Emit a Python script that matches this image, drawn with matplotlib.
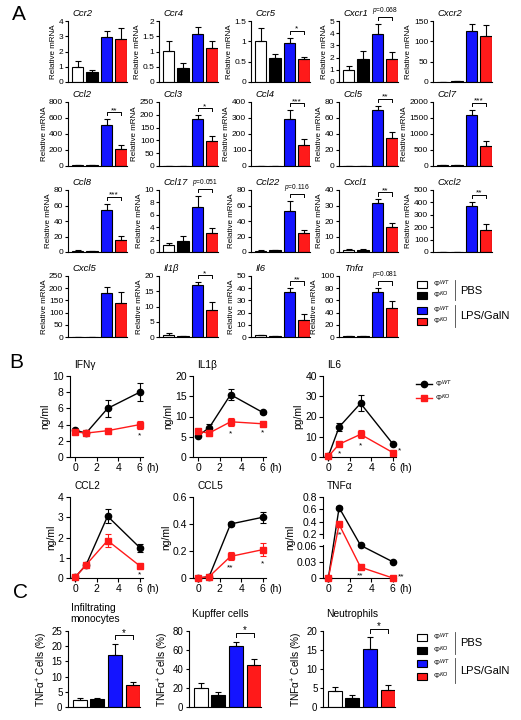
import matplotlib
matplotlib.use('Agg')
import matplotlib.pyplot as plt
from matplotlib.patches import Rectangle
from matplotlib.lines import Line2D
from matplotlib.ticker import FuncFormatter
import numpy as np

plt.rcParams.update({
    'font.family': ['Liberation Sans', 'DejaVu Sans'],
    'mathtext.fontset': 'custom', 'mathtext.rm': 'Liberation Sans',
    'mathtext.it': 'Liberation Sans:italic',
    'axes.linewidth': 0.8,
    'xtick.major.width': 0.8, 'ytick.major.width': 0.8,
    'xtick.major.size': 2.5, 'ytick.major.size': 2.5,
    'xtick.major.pad': 1.5, 'ytick.major.pad': 1.5,
})

W, H = 521, 720
fig = plt.figure(figsize=(W / 100, H / 100), dpi=100)

def px_axes(left, top, width, height):
    return fig.add_axes([left / W, 1 - (top + height) / H, width / W, height / H])

def px2fig(x, y):
    return x / W, 1 - y / H

fmt_g = FuncFormatter(lambda v, p: f'{v:g}')

# ---------------- data ----------------
groups = ['ΦWT PBS', 'ΦKO PBS', 'ΦWT LPS/GalN', 'ΦKO LPS/GalN']
geno_labels = ['Φ$^{WT}$', 'Φ$^{KO}$', 'Φ$^{WT}$', 'Φ$^{KO}$']
bar_colors = ['white', 'black', '#1414ff', '#ff1a1a']

# Panel A: relative mRNA
genes = ['Ccr2', 'Ccr4', 'Ccr5', 'Cxcr1', 'Cxcr2',
         'Ccl2', 'Ccl3', 'Ccl4', 'Ccl5', 'Ccl7',
         'Ccl8', 'Ccl17', 'Ccl22', 'Cxcl1', 'Cxcl2',
         'Cxcl5', 'Il1β', 'Il6', 'Tnfα']
mrna_mean = [
    [1.0, 0.68, 2.93, 2.84], [1.02, 0.45, 1.57, 1.12], [1.0, 0.58, 0.97, 0.56],
    [1.0, 1.92, 3.95, 1.92], [1.0, 2.0, 125, 112],
    [8, 8, 512, 212], [1, 1, 184, 99], [2, 2, 293, 131], [0.5, 0.5, 70, 35], [25, 25, 1600, 630],
    [1.5, 0.8, 54.7, 15.1], [1.2, 1.7, 7.3, 3.0], [1.5, 2.0, 53, 24], [1.5, 1.5, 31.6, 15.9], [2, 2, 373, 178],
    [1, 1, 182, 139], [0.8, 0.2, 16.9, 8.8], [1.5, 0.5, 36.8, 14.2], [1.5, 1.5, 73.7, 47.4],
]
mrna_err = [
    [0.38, 0.11, 0.43, 0.68], [0.33, 0.16, 0.24, 0.23], [0.34, 0.12, 0.12, 0.06],
    [0.33, 0.65, 0.81, 0.51], [0, 0, 17, 28],
    [0, 0, 75, 50], [0, 0, 15, 19], [0, 0, 55, 36], [0, 0, 5, 7], [0, 0, 155, 155],
    [0.5, 0.3, 7.7, 5.0], [0.3, 0.9, 1.7, 0.8], [0.5, 0.8, 13, 5], [0.3, 0.5, 2.4, 2.7], [0, 0, 32, 44],
    [0, 0, 22, 45], [0.6, 0.1, 1.1, 2.6], [0.4, 0.2, 3.2, 4.7], [0, 0, 6.3, 11.6],
]
mrna_ymax = [4, 2, 1.5, 5, 150, 800, 250, 400, 80, 2000, 80, 10, 80, 40, 500, 250, 20, 50, 100]
mrna_ystep = [1, 0.5, 0.5, 1, 50, 200, 50, 100, 20, 500, 20, 2, 20, 10, 100, 50, 5, 10, 20]
mrna_sig = ['', '', '*', '$p$=0.068', '',
            '**', '*', '***', '**', '***',
            '***', '$p$=0.051', '$p$=0.116', '**', '**',
            '', '*', '**', '$p$=0.081']

# Panel B: serum cytokines over time
hours = [0, 1, 3, 6]
cyto_names = ['IFNγ', 'IL1β', 'IL6', 'CCL2', 'CCL5', 'TNFα']
cyto_units = ['ng/ml', 'ng/ml', 'pg/ml', 'ng/ml', 'ng/ml', 'ng/ml']
wt_mean = [[3.3, 2.95, 6.0, 8.0], [5.3, 7.2, 15.4, 11.0], [0.5, 14.8, 26.5, 6.5],
           [0.05, 0.65, 3.05, 1.5], [0.0, 0.01, 0.40, 0.45], [0.0, 0.63, 0.063, 0.03]]
wt_err = [[0.2, 0.1, 1.05, 1.1], [0.3, 0.9, 1.4, 0.3], [0.3, 2.0, 4.0, 0.5],
          [0.02, 0.05, 0.35, 0.2], [0.0, 0.005, 0.015, 0.04], [0.0, 0.03, 0.002, 0.001]]
ko_mean = [[3.1, 2.95, 3.25, 4.0], [6.3, 5.9, 8.7, 8.2], [0.3, 6.3, 11.2, 2.2],
           [0.05, 0.65, 1.85, 0.6], [0.0, 0.01, 0.16, 0.21], [0.0, 0.36, 0.02, 0.0]]
ko_err = [[0.3, 0.15, 0.15, 0.5], [0.6, 0.6, 1.0, 0.4], [0.2, 1.0, 2.0, 0.5],
          [0.02, 0.05, 0.3, 0.05], [0.0, 0.005, 0.03, 0.05], [0.0, 0.04, 0.002, 0.0]]
cyto_ymax = [10, 20, 40, 4, 0.6, 0.8]
cyto_ystep = [2, 5, 10, 1, 0.2, 0.2]
cyto_sig = [['', '', '', '*'], ['', '', '*', '*'], ['', '*', '*', '*'],
            ['', '', '', '*'], ['', '', '**', '*'], ['', '**', '**', '**']]

# Panel C: TNFa+ cells
cell_types = ['Infiltrating\nmonocytes', 'Kupffer cells', 'Neutrophils']
cell_mean = [[2.2, 2.6, 17.2, 7.4], [19.8, 12.9, 64.4, 44.6], [4.15, 2.4, 15.2, 4.6]]
cell_err = [[0.8, 0.4, 3.6, 0.9], [5.6, 2.8, 4.5, 5.9], [1.15, 0.7, 3.1, 1.1]]
cell_ymax = [25, 80, 20]
cell_ystep = [5, 20, 5]
cell_sig = ['*', '*', '*']


def bar_panel(ax, means, errs, ymax, ystep, sig, tick_fs, star_fs):
    x = np.arange(4)
    ax.bar(x, means, width=0.8, color=bar_colors, edgecolor='black', linewidth=0.8, zorder=2)
    ax.errorbar(x, means, yerr=[np.zeros(4), errs], fmt='none', ecolor='black',
                elinewidth=0.8, capsize=2, capthick=0.8, zorder=3)
    ax.set_xlim(-0.67, 3.42)
    ax.set_ylim(0, ymax)
    ax.set_yticks(np.arange(0, ymax + ystep / 2, ystep))
    ax.yaxis.set_major_formatter(fmt_g)
    ax.tick_params(axis='y', labelsize=tick_fs, length=2)
    ax.set_xticks([])
    for s in ('top', 'right'):
        ax.spines[s].set_visible(False)
    if sig:
        top = max(m + e for m, e in zip(means[2:], errs[2:])) + 0.11 * ymax
        ax.plot([2, 2, 3, 3], [top - 0.05 * ymax, top, top, top - 0.05 * ymax],
                color='black', lw=0.7, clip_on=False)
        if sig.startswith('$p'):
            ax.text(2.5, top + 0.02 * ymax, sig, ha='center', va='bottom',
                    fontsize=4.8, clip_on=False)
        else:
            ax.text(2.5, top - 0.03 * ymax, sig, ha='center', va='bottom',
                    fontsize=star_fs, clip_on=False)


def bar_legend(ys, pbs_span, lps_span, pbs_y, lps_y):
    for y, col, lab in zip(ys, bar_colors, geno_labels):
        fx, fy = px2fig(417, y + 3.5)
        fig.add_artist(Rectangle((fx, fy), 10 / W, 7 / H, transform=fig.transFigure,
                                 facecolor=col, edgecolor='black', lw=0.8))
        fig.text(*px2fig(433, y), lab, fontsize=5.5, va='center', ha='left')
    for y0, y1 in (pbs_span, lps_span):
        fig.add_artist(Line2D([455 / W] * 2, [1 - y0 / H, 1 - y1 / H],
                              transform=fig.transFigure, color='#444444', lw=0.6))
    fig.text(*px2fig(460, pbs_y), 'PBS', fontsize=8, va='center', ha='left')
    fig.text(*px2fig(460, lps_y), 'LPS/GalN', fontsize=8, va='center', ha='left')


# ---------------- Panel A ----------------
a_lefts = [68, 159, 251, 339, 433]
a_tops = [21, 102, 190, 276]
a_heights = [61, 64, 62, 61]
for i, g in enumerate(genes):
    r, c = divmod(i, 5)
    ax = px_axes(a_lefts[c], a_tops[r], 59, a_heights[r])
    bar_panel(ax, mrna_mean[i], mrna_err[i], mrna_ymax[i], mrna_ystep[i], mrna_sig[i], 6, 6)
    ax.set_ylabel('Relative mRNA', fontsize=5.8, labelpad=1)
    ax.annotate(g, xy=(0, 1), xycoords='axes fraction', xytext=(3.5, 5.4),
                textcoords='offset points', fontsize=6.8, style='italic',
                ha='left', va='center')

bar_legend([284, 295, 310, 321], (280, 300), (305, 327), 291, 316)

# ---------------- Panel B ----------------
def brk_fwd(y):
    y = np.asarray(y, float)
    return np.where(y <= 0.06, y / 0.06 * 32,
                    np.where(y <= 0.2, 32 + (y - 0.06) / 0.14 * 11, 43 + (y - 0.2) / 0.6 * 37))

def brk_inv(v):
    v = np.asarray(v, float)
    return np.where(v <= 32, v / 32 * 0.06,
                    np.where(v <= 43, 0.06 + (v - 32) / 11 * 0.14, 0.2 + (v - 43) / 37 * 0.6))

b_lefts = [70, 193, 323]
b_tops = [376, 497]
for i, name in enumerate(cyto_names):
    r, c = divmod(i, 3)
    ax = px_axes(b_lefts[c], b_tops[r], 73, 81)
    if name == 'TNFα':
        ax.set_yscale('function', functions=(brk_fwd, brk_inv))
    ax.errorbar(hours, wt_mean[i], yerr=wt_err[i], fmt='-o', color='black', ms=4.5, lw=1,
                elinewidth=0.8, capsize=2.5, capthick=0.8, zorder=3, clip_on=False)
    ax.errorbar(hours, ko_mean[i], yerr=ko_err[i], fmt='-s', color='#ff1a1a', ms=4, lw=1,
                elinewidth=0.8, capsize=2.5, capthick=0.8, zorder=4, clip_on=False)
    ax.set_xlim(-0.5, 6.3)
    ax.set_ylim(0, cyto_ymax[i])
    ax.set_xticks([0, 2, 4, 6])
    if name == 'TNFα':
        ax.set_yticks([0, 0.03, 0.06, 0.2, 0.4, 0.6, 0.8])
        ax.spines['left'].set_visible(False)
        tr = ax.get_yaxis_transform()
        ax.plot([0, 0], [0, 0.066], color='black', lw=0.8, transform=tr, clip_on=False)
        ax.plot([0, 0], [0.16, 0.8], color='black', lw=0.8, transform=tr, clip_on=False)
    else:
        ax.set_yticks(np.arange(0, cyto_ymax[i] + cyto_ystep[i] / 2, cyto_ystep[i]))
    ax.yaxis.set_major_formatter(fmt_g)
    ax.tick_params(labelsize=7.5, length=3)
    for s in ('top', 'right'):
        ax.spines[s].set_visible(False)
    ax.set_ylabel(cyto_units[i], fontsize=7.5, labelpad=1)
    ax.annotate('(h)', xy=(6, 0), xycoords=('data', 'axes fraction'), xytext=(4.5, -4.5),
                textcoords='offset points', fontsize=7.5, ha='left', va='top')
    ax.annotate(name, xy=(0, 1), xycoords='axes fraction', xytext=(3, 8),
                textcoords='offset points', fontsize=7.3, ha='left', va='center')
    for t, m, e, s in zip(hours, ko_mean[i], ko_err[i], cyto_sig[i]):
        if not s:
            continue
        if t == 6 and name in ('IL6', 'TNFα'):
            ax.annotate(s, xy=(t, m), xytext=(3.5, 1), textcoords='offset points',
                        fontsize=6, ha='left', va='center', annotation_clip=False)
        else:
            ax.annotate(s, xy=(t, m - e), xytext=(0, -3), textcoords='offset points',
                        fontsize=6, ha='center', va='top', annotation_clip=False)

# B legend
for y, col, mk, lab in [(384, 'black', 'o', 'Φ$^{WT}$'), (398, '#ff1a1a', 's', 'Φ$^{KO}$')]:
    fx0, fy = px2fig(416, y)
    fx1, _ = px2fig(432, y)
    fig.add_artist(Line2D([fx0, fx1], [fy, fy], transform=fig.transFigure, color=col, lw=1))
    fig.add_artist(Line2D([(fx0 + fx1) / 2], [fy], transform=fig.transFigure, color=col,
                          marker=mk, ms=4.5 if mk == 'o' else 4))
    fig.text(*px2fig(435, y), lab, fontsize=5.5, va='center', ha='left')

# ---------------- Panel C ----------------
c_lefts = [68, 189, 323]
for i, name in enumerate(cell_types):
    ax = px_axes(c_lefts[i], 631, 72, 76)
    bar_panel(ax, cell_mean[i], cell_err[i], cell_ymax[i], cell_ystep[i], cell_sig[i], 7, 7)
    ax.tick_params(axis='y', length=2.5)
    ax.set_ylabel('TNFα$^{+}$ Cells (%)', fontsize=7.3, labelpad=1)
    ax.annotate(name, xy=(0, 1), xycoords='axes fraction', xytext=(2, 12.5),
                textcoords='offset points', fontsize=7.4, ha='left', va='center',
                multialignment='left')

bar_legend([637, 650, 663, 676], (632, 654), (658, 683), 643, 671)

# panel letters
fig.text(*px2fig(19, 15), 'A', fontsize=15, ha='center', va='center')
fig.text(*px2fig(16, 362), 'B', fontsize=15, ha='center', va='center')
fig.text(*px2fig(20, 592), 'C', fontsize=15, ha='center', va='center')

fig.savefig('out.png', dpi=100)
